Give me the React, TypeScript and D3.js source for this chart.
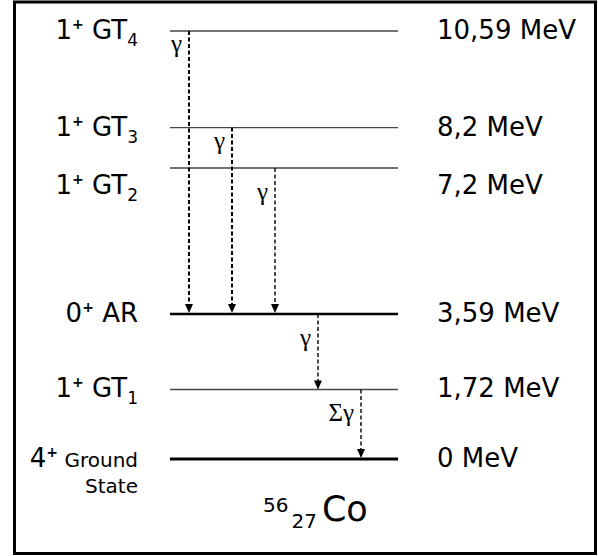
import { useEffect, useRef } from 'react'
import * as d3 from 'd3'

// Levels, top to bottom
const LEVEL_IDS = ['GT4', 'GT3', 'GT2', 'AR', 'GT1', 'GS']
const LEVEL_ENERGY = [10.59, 8.2, 7.2, 3.59, 1.72, 0]
const LEVEL_SPIN = ['1', '1', '1', '0', '1', '4']
const LEVEL_NAME = ['GT', 'GT', 'GT', 'AR', 'GT', 'Ground']
const LEVEL_SUB = ['4', '3', '2', '', '1', '']
const LEVEL_EXTRA = ['', '', '', '', '', 'State']
const ENERGY_LABELS = ['10,59 MeV', '8,2 MeV', '7,2 MeV', '3,59 MeV', '1,72 MeV', '0 MeV']

// Gamma transitions
const GAMMA_FROM = ['GT4', 'GT3', 'GT2', 'AR', 'GT1']
const GAMMA_TO = ['AR', 'AR', 'AR', 'GT1', 'GS']
const GAMMA_LABELS = ['γ', 'γ', 'γ', 'γ', 'Σγ']

const NUCLEUS_A = '56'
const NUCLEUS_Z = '27'
const NUCLEUS_SYMBOL = 'Co'

const W = 598
const H = 556
const FONT = '"Comic Sans MS", "DejaVu Sans", sans-serif'
const SERIF = '"Liberation Serif", "DejaVu Serif", serif'
const LINE_X0 = 170
const LINE_X1 = 398
// minimum baseline gap between stacked level labels
const MIN_LABEL_GAP = 58

export default function App() {
  const svgRef = useRef<SVGSVGElement>(null)

  useEffect(() => {
    if (!svgRef.current) return
    const svg = d3.select(svgRef.current)
    svg.selectAll('*').remove()

    const levels = LEVEL_IDS.map((id, i) => ({
      id,
      energy: LEVEL_ENERGY[i],
      spin: LEVEL_SPIN[i],
      name: LEVEL_NAME[i],
      sub: LEVEL_SUB[i],
      extra: LEVEL_EXTRA[i],
      label: ENERGY_LABELS[i],
      base: 0,
    }))
    const byId = new Map(levels.map((l) => [l.id, l]))

    const [eMin, eMax] = d3.extent(LEVEL_ENERGY) as [number, number]
    const y = d3.scaleLinear().domain([eMin, eMax]).range([459, 31])

    // label baselines: just under the line, pushed down if too close to the one above
    let prev = -Infinity
    levels.forEach((l) => {
      l.base = Math.max(y(l.energy) + 8, prev + MIN_LABEL_GAP)
      prev = l.base
    })

    const gammas = GAMMA_FROM.map((from, i) => ({
      key: `${from}-${GAMMA_TO[i]}`,
      from: byId.get(from)!,
      to: byId.get(GAMMA_TO[i])!,
      label: GAMMA_LABELS[i],
    }))
    const x = d3
      .scalePoint<string>()
      .domain(gammas.map((g) => g.key))
      .range([189, 361])

    // frame
    svg.append('rect')
      .attr('x', 14.5)
      .attr('y', 2)
      .attr('width', 581)
      .attr('height', 551.5)
      .attr('fill', '#fff')
      .attr('stroke', '#000')
      .attr('stroke-width', 3)

    // level lines
    const thick = (id: string) => id === 'AR' || id === 'GS'
    svg.append('g')
      .selectAll('line')
      .data(levels)
      .join('line')
      .attr('x1', LINE_X0)
      .attr('x2', LINE_X1)
      .attr('y1', (d) => y(d.energy))
      .attr('y2', (d) => y(d.energy))
      .attr('stroke', (d) => (thick(d.id) ? '#000' : '#444'))
      .attr('stroke-width', (d) => (d.id === 'GS' ? 3 : d.id === 'AR' ? 2.5 : 1.4))

    // gamma arrows
    const ga = svg.append('g')
    gammas.forEach((g, i) => {
      const gx = x(g.key)!
      const ty = y(g.to.energy) - (thick(g.to.id) ? 1 : 0)
      ga.append('line')
        .attr('x1', gx)
        .attr('x2', gx)
        .attr('y1', y(g.from.energy))
        .attr('y2', ty - 4)
        .attr('stroke', '#000')
        .attr('stroke-width', i < 2 ? 2 : 1.4)
        .attr('stroke-dasharray', '4 2.5')
      ga.append('polygon')
        .attr('points', `${gx - 4},${ty - 9} ${gx + 4},${ty - 9} ${gx},${ty}`)
        .attr('fill', '#000')
      ga.append('text')
        .attr('x', gx - 7)
        .attr('y', y(g.from.energy) + (i < 2 ? 21 : 32))
        .attr('text-anchor', 'end')
        .attr('font-family', SERIF)
        .attr('font-size', 25)
        .attr('fill', '#000')
        .text(g.label)
    })

    // energy labels (right)
    svg.append('g')
      .selectAll('text')
      .data(levels)
      .join('text')
      .attr('x', 437)
      .attr('y', (d) => d.base)
      .attr('font-family', FONT)
      .attr('font-size', 26)
      .attr('fill', '#000')
      .text((d) => d.label)

    // spin / name labels (left)
    const left = svg.append('g')
    levels.forEach((d) => {
      const t = left.append('text')
        .attr('x', 138)
        .attr('y', d.base)
        .attr('text-anchor', 'end')
        .attr('font-family', FONT)
        .attr('font-size', 26)
        .attr('fill', '#000')
      t.append('tspan').text(d.spin)
      t.append('tspan').attr('font-size', 14).attr('font-weight', 'bold').attr('dy', -10).text('+')
      t.append('tspan')
        .attr('dy', 10)
        .attr('font-size', d.extra ? 20 : 26)
        .text(' ' + d.name)
      if (d.sub) {
        t.append('tspan').attr('font-size', 17).attr('dy', 7).text(d.sub)
      }
      if (d.extra) {
        left.append('text')
          .attr('x', 138)
          .attr('y', d.base + 26)
          .attr('text-anchor', 'end')
          .attr('font-family', FONT)
          .attr('font-size', 20)
          .attr('fill', '#000')
          .text(d.extra)
      }
    })

    // nucleus label
    const nt = svg.append('text')
      .attr('x', 263)
      .attr('y', 512)
      .attr('font-family', FONT)
      .attr('fill', '#000')
    nt.append('tspan').attr('font-size', 20).text(NUCLEUS_A)
    nt.append('tspan').attr('font-size', 20).attr('dx', 3).attr('dy', 16).text(NUCLEUS_Z)
    nt.append('tspan')
      .attr('font-size', 35)
      .attr('dx', 5)
      .attr('dy', -7)
      .text(NUCLEUS_SYMBOL)
  }, [])

  return (
    <svg
      ref={svgRef}
      width={W}
      height={H}
      style={{ position: 'absolute', left: 0, top: 0, display: 'block', background: '#fff' }}
    />
  )
}
